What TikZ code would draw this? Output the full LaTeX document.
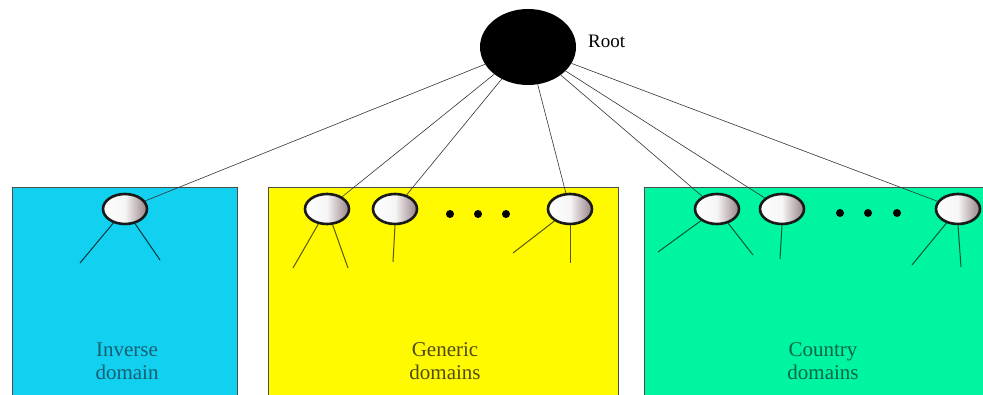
\documentclass[tikz,border=0pt]{standalone}
\usepackage{fontspec}
\setmainfont{Liberation Serif}
\usetikzlibrary{shapes.geometric}
\definecolor{boxblue}{RGB}{18,208,240}
\definecolor{boxyellow}{RGB}{255,250,0}
\definecolor{boxgreen}{RGB}{0,245,160}
\definecolor{txtblue}{RGB}{25,95,115}
\definecolor{txtyellow}{RGB}{80,75,20}
\definecolor{txtgreen}{RGB}{10,100,75}
\definecolor{ballshade}{RGB}{150,130,135}
\tikzset{
  domainbox/.style={draw=black!70, line width=0.8pt},
  ball/.style={ellipse, draw=black!90, line width=2.6pt, minimum width=44pt, minimum height=30pt, inner sep=0pt, left color=white, right color=ballshade, middle color=white!92!ballshade},
  dotnode/.style={circle, fill=black, minimum size=8pt, inner sep=0pt},
  rootlink/.style={draw=black!80, line width=0.6pt},
  childlink/.style={line width=1pt},
  boxtext/.style={font=\fontsize{21pt}{23pt}\selectfont, align=center, anchor=base, inner sep=0pt}
}
\begin{document}
\begin{tikzpicture}[x=1pt,y=-1pt]
\useasboundingbox (0,0) rectangle (983,395);
\fill[white] (0,0) rectangle (983,395);
% boxes
\fill[boxblue] (12,187) rectangle (237,395);
\draw[domainbox] (12,395) -- (12,187) -- (237,187) -- (237,395);
\fill[boxyellow] (268,187) rectangle (618,395);
\draw[domainbox] (268,395) -- (268,187) -- (618,187) -- (618,395);
\fill[boxgreen] (644,187) rectangle (983,395);
\draw[domainbox] (644,395) -- (644,187) -- (983,187);
% root
\node[ellipse, fill=black, minimum width=96pt, minimum height=76pt, inner sep=0pt] (root) at (528,47) {};
\node[anchor=base west, inner sep=0pt, font=\fontsize{19pt}{21pt}\selectfont] (rootlabel) at (588,48) {Root};
% domain nodes
\node[ball] (inv) at (125,209) {};
\node[ball] (g1) at (327,209) {};
\node[ball] (g2) at (395,209) {};
\node[ball] (g3) at (570,209) {};
\node[ball] (c1) at (717,209) {};
\node[ball] (c2) at (782,209) {};
\node[ball] (c3) at (958,209) {};
% dots
\node[dotnode] (gd1) at (450,214) {};
\node[dotnode] (gd2) at (478,214) {};
\node[dotnode] (gd3) at (506,214) {};
\node[dotnode] (cd1) at (840,213) {};
\node[dotnode] (cd2) at (868,213) {};
\node[dotnode] (cd3) at (897,213) {};
% root links
\foreach \n in {inv,g1,g2,g3,c1,c2,c3}
  \draw[rootlink] (root) -- (\n);
% child ends
\coordinate (ia) at (80,263);
\coordinate (ib) at (160,260);
\coordinate (g1a) at (293,268);
\coordinate (g1b) at (348,268);
\coordinate (g2a) at (393,262);
\coordinate (g3a) at (513,253);
\coordinate (g3b) at (570,263);
\coordinate (c1a) at (658,252);
\coordinate (c1b) at (753,255);
\coordinate (c2a) at (780,259);
\coordinate (c3a) at (912,265);
\coordinate (c3b) at (961,267);
\draw[childlink, draw=black!75!boxblue] (inv) -- (ia);
\draw[childlink, draw=black!75!boxblue] (inv) -- (ib);
\draw[childlink, draw=black!65!boxyellow] (g1) -- (g1a);
\draw[childlink, draw=black!65!boxyellow] (g1) -- (g1b);
\draw[childlink, draw=black!65!boxyellow] (g2.south) -- (g2a);
\draw[childlink, draw=black!65!boxyellow] (g3) -- (g3a);
\draw[childlink, draw=black!65!boxyellow] (g3.south) -- (g3b);
\draw[childlink, draw=black!65!boxgreen] (c1) -- (c1a);
\draw[childlink, draw=black!65!boxgreen] (c1) -- (c1b);
\draw[childlink, draw=black!65!boxgreen] (c2.south) -- (c2a);
\draw[childlink, draw=black!65!boxgreen] (c3) -- (c3a);
\draw[childlink, draw=black!65!boxgreen] (c3.south) -- (c3b);
% labels
\node[boxtext, text=txtblue] (invtext) at (127,380) {Inverse\\domain};
\node[boxtext, text=txtyellow] (gentext) at (445,380) {Generic\\domains};
\node[boxtext, text=txtgreen] (countext) at (823,380) {Country\\domains};
\end{tikzpicture}
\end{document}
